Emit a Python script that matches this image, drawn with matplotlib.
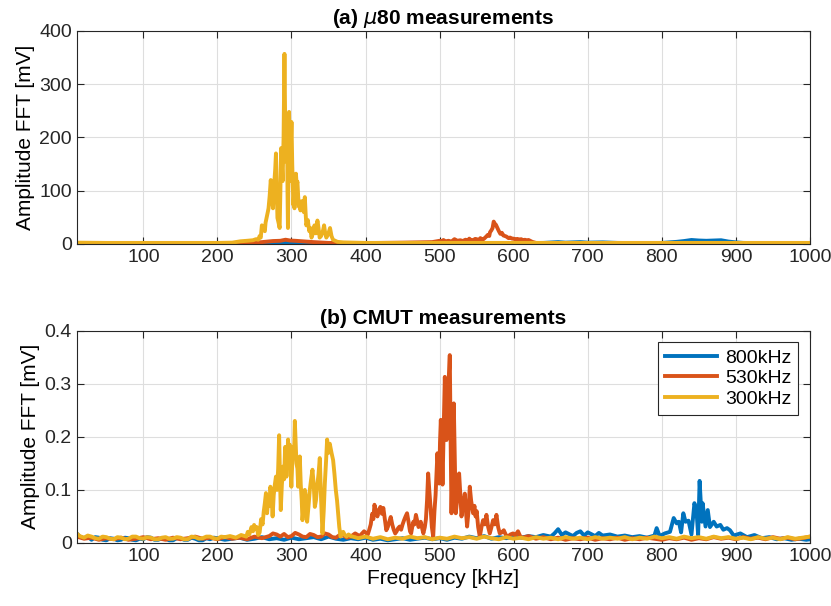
import numpy as np
import matplotlib
matplotlib.use("Agg")
import matplotlib.pyplot as plt

plt.rcParams['font.family'] = ['Liberation Sans', 'DejaVu Sans']
plt.rcParams['mathtext.fontset'] = 'dejavusans'

# couleurs MATLAB par defaut
c_blue = (0.0, 0.447, 0.741)
c_orange = (0.85, 0.325, 0.098)
c_yellow = (0.929, 0.694, 0.125)

labels = ["800kHz", "530kHz", "300kHz"]

# (a) mesures mu80, amplitude en mV
f_a_800 = [10, 50, 100, 150, 200, 250, 270, 290, 300, 310, 330, 360, 400, 450, 500, 550, 600,
           640, 660, 670, 690, 700, 720, 740, 780, 800, 820, 830, 840, 850, 860, 870, 880, 890,
           900, 910, 940, 970, 1000]
a_a_800 = [0.5, 0.8, 0.5, 0.7, 0.6, 1.0, 2.0, 3.0, 3.5, 2.5, 1.5, 1.0, 0.8, 1.0, 1.2, 1.5, 1.5,
           2.0, 3.5, 2.5, 3.5, 2.5, 3.0, 2.0, 1.5, 2.0, 4.0, 5.5, 7.5, 6.5, 6.0, 6.5, 7.0, 4.5,
           3.0, 2.0, 1.5, 1.0, 1.0]

f_a_530 = [10, 50, 100, 150, 200, 240, 260, 275, 285, 292, 298, 305, 315, 330, 350, 380, 420,
           450, 470, 490, 500, 503, 505, 508, 512, 516, 520, 524, 528, 531, 535, 538, 540, 543,
           545, 548, 550, 553, 555, 558, 560, 563, 565, 567, 568, 570, 571.5, 573, 574.5, 576,
           578, 580, 582, 584, 586, 588, 590, 593, 595, 598, 600, 603, 605, 608, 610, 613, 615,
           618, 620, 625, 630, 650, 700, 800, 900, 1000]
a_a_530 = [0.8, 0.6, 0.8, 0.6, 0.8, 1.5, 3.5, 5.5, 6.0, 8.0, 6.5, 6.0, 5.0, 3.5, 2.0, 1.5, 2.0,
           2.5, 3.0, 3.5, 6.0, 4.5, 7.5, 5.0, 6.0, 4.5, 9.0, 6.0, 7.0, 5.5, 8.0, 6.0, 10.0, 6.5,
           7.0, 9.5, 9.0, 7.0, 11.0, 8.0, 10.0, 14.0, 17.0, 15.0, 22.0, 26.0, 30.0, 42.0, 38.0, 36.0,
           30.0, 24.0, 19.0, 21.0, 16.0, 15.0, 14.0, 11.0, 12.0, 10.0, 10.0, 8.0, 9.5, 8.0, 9.0, 7.0, 8.0,
           6.5, 7.5, 4.0, 2.0, 1.5, 1.0, 0.8, 0.8, 0.6]

f_a_300 = [10, 50, 100, 150, 200, 220, 231, 240, 248, 252, 255, 257, 258.5, 260, 262, 264, 265,
           266.5, 268, 269, 270.5, 272, 273.5, 275, 276.5, 278, 279, 280, 281, 282.5, 284, 285,
           286, 287, 288, 289.3, 290.5, 291.3, 292, 293, 294, 294.6, 295.2, 296, 296.7, 297.4, 298,
           299, 300, 301, 302.5, 303.3, 304, 305, 306, 307, 308, 309, 310, 311, 312, 313.5, 315,
           316.5, 318, 319, 320, 322, 324, 325.5, 327, 329, 331, 333, 335, 336.5, 338, 340, 341,
           342.5, 344, 345.5, 347, 349.5, 352, 354, 356, 359, 362, 370, 400, 500, 600, 700, 800,
           900, 1000]
a_a_300 = [2.5, 2.0, 2.0, 2.0, 2.0, 2.5, 5.0, 6.0, 7.0, 9.0, 8.0, 15.0, 12.0, 35.0, 28.0, 24.0, 40.0,
           50.0, 60.0, 67.0, 90.0, 120.0, 90.0, 67.0, 110.0, 140.0, 170.0, 110.0, 49.0, 40.0, 30.0, 100.0,
           180.0, 150.0, 118.0, 200.0, 357.0, 250.0, 155.0, 190.0, 223.0, 100.0, 30.0, 150.0, 248.0, 200.0, 118.0,
           180.0, 229.0, 150.0, 73.0, 90.0, 67.0, 100.0, 132.0, 110.0, 117.0, 90.0, 70.0, 80.0, 63.0, 70.0, 81.0,
           60.0, 88.0, 60.0, 35.0, 45.0, 24.0, 30.0, 12.0, 20.0, 35.0, 20.0, 44.0, 30.0, 12.0, 15.0, 20.0,
           25.0, 35.0, 20.0, 12.0, 18.0, 30.0, 15.0, 8.0, 6.0, 4.0, 3.0, 2.0, 2.0, 2.0, 2.0, 2.0,
           2.0, 2.0]

# (b) mesures CMUT, amplitude en mV
f_b_800 = [10, 14, 20, 25, 30, 35, 40, 45, 50, 55, 60, 65, 70, 75, 80, 85, 90, 95, 100, 105, 110,
           115, 120, 125, 130, 135, 140, 145, 150, 155, 160, 165, 170, 175, 180, 185, 190, 195,
           200, 210, 220, 230, 240, 250, 260, 270, 280, 290, 300, 310, 320, 330, 340, 350, 360, 370,
           380, 390, 400, 410, 420, 430, 440, 450, 460, 470, 480, 490, 500, 510, 520, 530, 540, 550,
           560, 570, 580, 590, 600, 610, 620, 630, 640, 650, 655, 660, 665, 670, 680, 685, 690, 695,
           700, 710, 715, 720, 730, 740, 750, 760, 770, 780, 790, 793, 797, 804, 811, 816, 820, 823,
           826, 829, 832, 836, 840, 844, 847, 849, 851, 854, 855, 859, 862, 865, 870, 874, 879, 883,
           888, 892, 897, 906, 915, 925, 935, 945, 955, 965, 975, 985, 995, 1000]
a_b_800 = [0.018, 0.012, 0.009, 0.012, 0.006, 0.011, 0.010, 0.006, 0.005, 0.009, 0.008, 0.005, 0.006,
           0.010, 0.009, 0.006, 0.005, 0.008, 0.007, 0.011, 0.010, 0.006, 0.006, 0.009, 0.008, 0.005,
           0.005, 0.009, 0.009, 0.006, 0.006, 0.010, 0.008, 0.005, 0.005, 0.009, 0.007, 0.010,
           0.009, 0.006, 0.008, 0.010, 0.006, 0.008, 0.011, 0.007, 0.009, 0.006, 0.010, 0.007, 0.009,
           0.011, 0.007, 0.012, 0.008, 0.006, 0.009, 0.007, 0.010, 0.006, 0.008, 0.005, 0.007, 0.009,
           0.006, 0.008, 0.010, 0.007, 0.009, 0.006, 0.010, 0.008, 0.012, 0.009, 0.013, 0.008, 0.011,
           0.009, 0.012, 0.010, 0.013, 0.011, 0.015, 0.012, 0.018, 0.026, 0.015, 0.020, 0.013, 0.019,
           0.022, 0.014, 0.020, 0.013, 0.019, 0.014, 0.016, 0.012, 0.014, 0.011, 0.013, 0.010, 0.014,
           0.028, 0.013, 0.018, 0.021, 0.047, 0.037, 0.040, 0.020, 0.056, 0.040, 0.042, 0.016, 0.075,
           0.056, 0.015, 0.117, 0.040, 0.075, 0.031, 0.062, 0.030, 0.040, 0.031, 0.034, 0.025, 0.028,
           0.024, 0.014, 0.018, 0.011, 0.015, 0.009, 0.011, 0.007, 0.009, 0.006, 0.008, 0.006, 0.007]

f_b_530 = [10, 20, 30, 40, 50, 60, 70, 80, 90, 100, 110, 120, 130, 140, 150, 160, 170, 180, 190, 200,
           210, 220, 230, 240, 250, 260, 270, 275, 280, 285, 290, 295, 300, 305, 310, 315, 320, 325,
           330, 335, 340, 345, 350, 355, 360, 365, 370, 375, 380, 386, 392, 398, 403, 405, 407, 409,
           410.5, 412, 414, 416, 418, 420, 422, 424, 426, 428, 430, 432, 434, 436, 438, 440, 442,
           444, 446, 448, 450, 452, 454, 456, 458, 460, 461.5, 463, 464.5, 466, 468, 470, 471.5,
           473, 474.5, 476, 478, 480, 481.5, 483, 484.5, 486, 487.7, 489.5, 491.3, 493, 494.5, 496,
           497, 498.2, 499.4, 500.5, 501.6, 502.8, 503.9, 505.5, 507, 508.2, 509.3, 510.4, 511.5,
           512.6, 513.7, 514.8, 516, 517.5, 519.1, 520.5, 521.8, 523.5, 525, 526.3, 528, 529.5,
           531.5, 534, 535.5, 537.1, 539, 540.7, 542.5, 545.2, 547, 548.5, 550, 552, 554.2, 556.5,
           558.7, 561, 563.2, 565.5, 567.7, 570, 572.2, 574.5, 576.7, 579, 581.2, 584, 586.6, 589.5,
           592.4, 595.5, 599.1, 602, 605.8, 609, 612, 620, 630, 640, 650, 660, 670, 680, 690, 700,
           710, 720, 730, 740, 750, 760, 770, 780, 790, 800, 810, 820, 830, 840, 850, 860, 870, 880,
           890, 900, 910, 920, 930, 940, 950, 960, 970, 980, 990, 1000]
a_b_530 = [0.012, 0.008, 0.010, 0.006, 0.009, 0.007, 0.010, 0.006, 0.008, 0.011, 0.007, 0.009, 0.006,
           0.010, 0.007, 0.009, 0.012, 0.008, 0.010, 0.007, 0.011, 0.008, 0.010, 0.007, 0.012, 0.009,
           0.013, 0.018, 0.016, 0.012, 0.017, 0.011, 0.013, 0.019, 0.016, 0.012, 0.011, 0.017, 0.015,
           0.011, 0.012, 0.018, 0.016, 0.011, 0.010, 0.015, 0.014, 0.010, 0.012, 0.018, 0.013, 0.022,
           0.016, 0.025, 0.035, 0.055, 0.045, 0.072, 0.060, 0.050, 0.062, 0.068, 0.055, 0.066, 0.045,
           0.024, 0.030, 0.040, 0.049, 0.035, 0.025, 0.018, 0.022, 0.028, 0.031, 0.025, 0.035, 0.043,
           0.050, 0.056, 0.040, 0.022, 0.018, 0.030, 0.040, 0.035, 0.053, 0.040, 0.030, 0.035, 0.040,
           0.030, 0.018, 0.030, 0.045, 0.080, 0.131, 0.100, 0.068, 0.030, 0.012, 0.060, 0.090, 0.140,
           0.169, 0.140, 0.112, 0.190, 0.232, 0.180, 0.110, 0.220, 0.313, 0.250, 0.194, 0.230, 0.269,
           0.320, 0.354, 0.200, 0.056, 0.150, 0.263, 0.150, 0.056, 0.080, 0.110, 0.131, 0.090, 0.050,
           0.070, 0.093, 0.060, 0.031, 0.060, 0.106, 0.080, 0.056, 0.070, 0.050, 0.060, 0.030, 0.012,
           0.030, 0.043, 0.035, 0.053, 0.030, 0.018, 0.030, 0.043, 0.035, 0.053, 0.030, 0.018, 0.020,
           0.024, 0.015, 0.012, 0.016, 0.018, 0.014, 0.022, 0.012, 0.010, 0.013, 0.008, 0.011, 0.007,
           0.010, 0.006, 0.009, 0.007, 0.010, 0.006, 0.009, 0.007, 0.010, 0.006, 0.009, 0.007, 0.010,
           0.008, 0.006, 0.009, 0.007, 0.010, 0.006, 0.009, 0.007, 0.011, 0.008, 0.010, 0.007, 0.011,
           0.008, 0.010, 0.007, 0.011, 0.008, 0.010, 0.007, 0.009, 0.012]

f_b_300 = [10, 14, 20, 25, 30, 35, 40, 45, 50, 55, 60, 65, 70, 75, 80, 85, 90, 95, 100, 105, 110,
           115, 120, 125, 130, 135, 140, 145, 150, 155, 160, 165, 170, 175, 180, 185, 190, 195, 200,
           205, 210, 217, 225, 232, 239, 241, 243, 246, 248, 249.5, 251, 253, 255, 257, 259, 261,
           262.5, 264, 265.5, 267, 268.5, 270, 271.5, 273, 274.5, 276, 277.5, 279, 280.5, 282,
           283.3, 284.5, 285.5, 287, 288.7, 290, 291.4, 292.5, 293.2, 294.3, 295.4, 296.5, 297.7,
           298.8, 299.8, 301, 302.2, 303.5, 304.5, 305.6, 306.7, 308, 309, 310, 311.2, 312.5, 313.8,
           314.8, 316.5, 318, 319.5, 321.1, 323, 324.7, 326.5, 328.3, 330, 331.5, 333, 334.6, 336.5,
           338.2, 340, 341.8, 343.5, 345, 346.5, 348.1, 350, 351.7, 354, 356.2, 358, 359.8, 361.5,
           363, 364.5, 366.2, 368, 369.8, 372, 374.3, 377, 380, 390, 400, 410, 420, 430, 440, 450,
           460, 470, 480, 490, 500, 510, 520, 530, 540, 550, 560, 570, 580, 590, 600, 610, 620, 630,
           640, 650, 660, 670, 680, 690, 700, 710, 720, 730, 740, 750, 760, 770, 780, 790, 800, 810,
           820, 830, 840, 850, 860, 870, 880, 890, 900, 910, 920, 930, 940, 950, 960, 970, 980, 990,
           1000]
a_b_300 = [0.018, 0.013, 0.010, 0.014, 0.012, 0.009, 0.008, 0.012, 0.011, 0.008, 0.007, 0.011, 0.010,
           0.007, 0.008, 0.012, 0.012, 0.009, 0.008, 0.011, 0.010, 0.007, 0.007, 0.010, 0.011, 0.008,
           0.008, 0.011, 0.010, 0.007, 0.007, 0.012, 0.011, 0.008, 0.009, 0.012, 0.012, 0.009, 0.008,
           0.012, 0.011, 0.013, 0.010, 0.015, 0.012, 0.021, 0.016, 0.030, 0.022, 0.034, 0.026, 0.030,
           0.015, 0.020, 0.045, 0.035, 0.059, 0.075, 0.094, 0.056, 0.080, 0.070, 0.106, 0.088, 0.050,
           0.090, 0.110, 0.125, 0.100, 0.140, 0.203, 0.120, 0.062, 0.110, 0.144, 0.120, 0.181, 0.140,
           0.125, 0.160, 0.195, 0.150, 0.185, 0.140, 0.106, 0.150, 0.181, 0.170, 0.230, 0.190, 0.150,
           0.140, 0.106, 0.130, 0.163, 0.110, 0.080, 0.043, 0.070, 0.100, 0.085, 0.040, 0.070, 0.100,
           0.120, 0.138, 0.110, 0.068, 0.080, 0.106, 0.130, 0.160, 0.080, 0.018, 0.060, 0.112, 0.150,
           0.195, 0.170, 0.187, 0.170, 0.156, 0.130, 0.100, 0.080, 0.056, 0.030, 0.012, 0.018, 0.021,
           0.015, 0.012, 0.016, 0.013, 0.009, 0.012, 0.008, 0.011, 0.007, 0.010, 0.008, 0.012, 0.009,
           0.011, 0.007, 0.010, 0.008, 0.012, 0.009, 0.011, 0.008, 0.012, 0.009, 0.007, 0.011, 0.008,
           0.010, 0.007, 0.011, 0.008, 0.010, 0.007, 0.011, 0.008, 0.010, 0.007, 0.011, 0.008, 0.010,
           0.008, 0.011, 0.007, 0.010, 0.008, 0.012, 0.009, 0.011, 0.008, 0.012, 0.009, 0.011, 0.008,
           0.012, 0.009, 0.011, 0.008, 0.010, 0.007, 0.011, 0.008, 0.010, 0.007, 0.011, 0.008, 0.010,
           0.012]

x_ticks = [100, 200, 300, 400, 500, 600, 700, 800, 900, 1000]


def style_axes(ax):
    ax.set_xlim(10, 1000)
    ax.set_xticks(x_ticks)
    ax.grid(True, color=(0.87, 0.87, 0.87), linewidth=0.8)
    ax.set_axisbelow(True)
    ax.tick_params(direction='in', top=True, right=True, length=5, width=0.8,
                   colors=(0.15, 0.15, 0.15), labelsize=14)
    for s in ax.spines.values():
        s.set_color((0.15, 0.15, 0.15))
        s.set_linewidth(0.8)


fig = plt.figure(figsize=(8.31, 6.06), dpi=100)
ax1 = fig.add_axes([0.0923, 0.5974, 0.8824, 0.3515])
ax2 = fig.add_axes([0.0923, 0.1040, 0.8824, 0.3503])

lw = 2.8
ax1.plot(f_a_800, a_a_800, color=c_blue, lw=lw)
ax1.plot(f_a_530, a_a_530, color=c_orange, lw=lw)
ax1.plot(f_a_300, a_a_300, color=c_yellow, lw=lw)
ax1.set_ylim(0, 400)
ax1.set_yticks([0, 100, 200, 300, 400])
style_axes(ax1)
ax1.set_ylabel('Amplitude FFT [mV]', fontsize=15, labelpad=3)
ax1.set_title(r'(a) $\mu$80 measurements', fontsize=15, fontweight='bold', pad=5)

ax2.plot(f_b_800, a_b_800, color=c_blue, lw=lw, label=labels[0])
ax2.plot(f_b_530, a_b_530, color=c_orange, lw=lw, label=labels[1])
ax2.plot(f_b_300, a_b_300, color=c_yellow, lw=lw, label=labels[2])
ax2.set_ylim(0, 0.4)
ax2.set_yticks([0, 0.1, 0.2, 0.3, 0.4])
ax2.set_yticklabels(['0', '0.1', '0.2', '0.3', '0.4'])
style_axes(ax2)
ax2.set_ylabel('Amplitude FFT [mV]', fontsize=15, labelpad=3)
ax2.set_xlabel('Frequency [kHz]', fontsize=15, labelpad=3)
ax2.set_title('(b) CMUT measurements', fontsize=15, fontweight='bold', pad=5)

leg = ax2.legend(loc='upper right', fontsize=14, fancybox=False, framealpha=1,
                 edgecolor=(0.15, 0.15, 0.15), handlelength=2.7, borderaxespad=0.6,
                 labelspacing=0.15, handletextpad=0.4, borderpad=0.35)
leg.get_frame().set_linewidth(0.8)

fig.savefig('out.png', dpi=100)
